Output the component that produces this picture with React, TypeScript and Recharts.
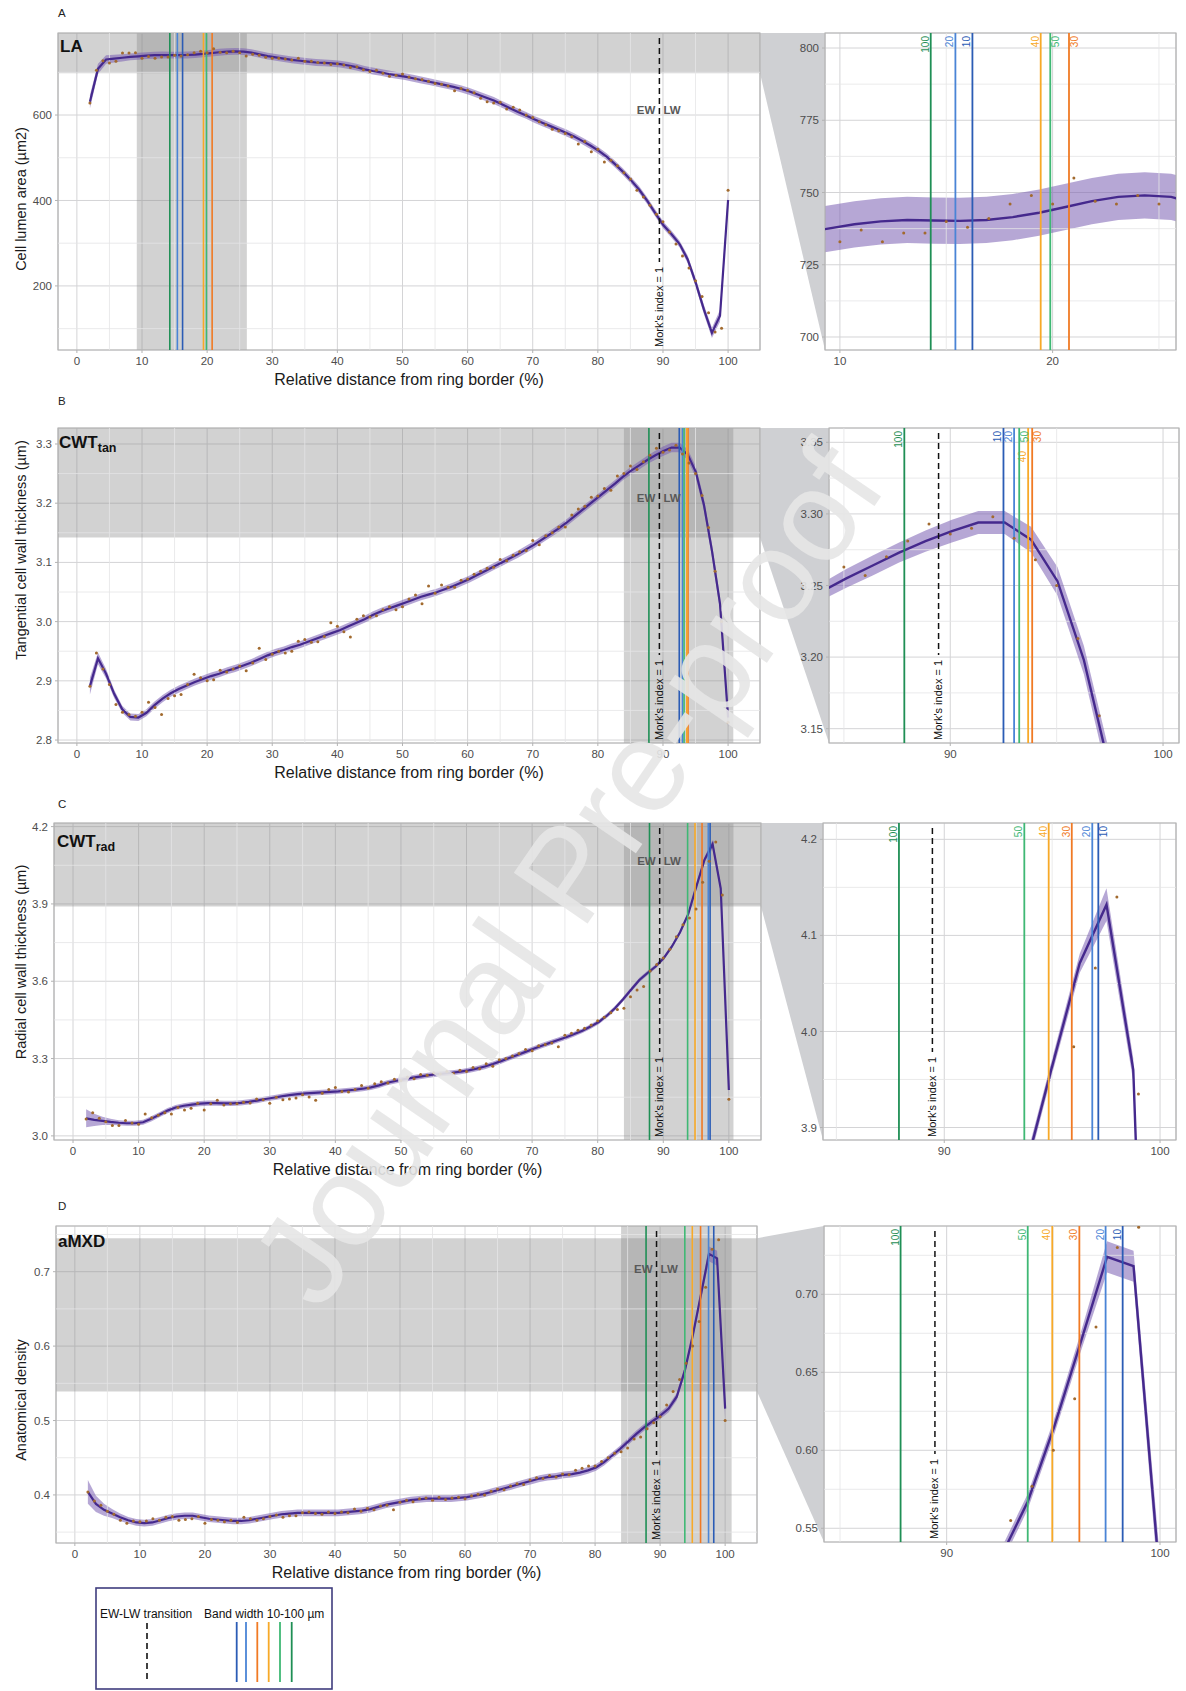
import React from "react";
import {
  ComposedChart,
  Line,
  Area,
  Scatter,
  XAxis,
  YAxis,
  CartesianGrid,
  ReferenceLine,
  ReferenceArea,
} from "recharts";

const FONT = '"Liberation Sans", Arial, Helvetica, sans-serif';

// geom_smooth evaluates the fit on 80 points between 2 and 100 %
const FIT_X = Array.from({ length: 80 }, (_, i) => 2 + (i * 98) / 79);
// measured positions, every 1 % from 2 to 100
const POINT_X = Array.from({ length: 99 }, (_, i) => i + 2);

const BAND_WIDTHS = [10, 20, 30, 40, 50, 100];
const BAND_COLORS = ["#2b5cb5", "#4a84d6", "#f07a24", "#f7a928", "#3fb874", "#1f8f55"];
const MORK_X = 89.45;

const MAIN_X_DOMAIN: [number, number] = [-2.9, 104.9];
const MAIN_X_TICKS = [0, 10, 20, 30, 40, 50, 60, 70, 80, 90, 100];
const MAIN_X_MINOR = [5, 15, 25, 35, 45, 55, 65, 75, 85, 95];
const ZOOM_X_TICKS = [90, 100];
const ZOOM_X_MINOR = [85, 95];

// ---- LA : cell lumen area (µm2)
const fitLA = [
  631, 708, 730, 732, 734, 736, 737.5, 739, 740, 740.5,
  740.3, 740.2, 740.5, 741.5, 743, 745, 747, 748.5, 749, 748.5,
  746, 742, 738, 735, 732, 729, 727, 725, 723, 722,
  721, 719, 716, 712, 707, 703, 700, 696, 693, 690,
  686, 682, 678, 674, 670, 666, 661, 655, 648, 641,
  634, 625, 616, 607, 599, 590, 582, 574, 566, 558,
  549, 539, 528, 516, 502, 485, 467, 447, 425, 399,
  370, 342, 321, 298, 262, 207, 145, 90, 130, 401,
];
const ciLA = [
  16, 12, 10, 9, 8.5, 8, 8, 8, 8, 8,
  8, 8, 8, 8, 8, 8, 8, 8, 8, 8,
  8, 8, 8, 8, 8, 8, 8, 8, 8, 8,
  8, 8, 8, 8, 8, 8, 8, 8, 8, 8,
  8, 8, 8, 8, 8, 8, 8, 8, 8, 8,
  8, 8, 8, 8, 8, 8, 8, 8, 8, 8,
  8, 8, 8, 8, 8, 8, 8, 8, 8, 8,
  8, 8, 8, 8, 9, 10, 11, 12, 14, 18,
];
const ptsLA = [
  628, 705, 727, 722, 726, 745, 745, 746, 733, 737,
  733, 736, 736, 740, 738, 741, 746, 749, 746, 755,
  747, 746, 749, 746, 738, 742, 740, 735, 733, 733,
  731, 729, 733, 726, 726, 723, 722, 718, 720, 717,
  711, 713, 706, 702, 705, 698, 691, 693, 696, 689,
  685, 683, 679, 674, 672, 668, 657, 662, 658, 652,
  639, 631, 628, 630, 614, 618, 612, 600, 594, 584,
  577, 567, 563, 557, 549, 532, 538, 514, 520, 490,
  494, 481, 465, 450, 424, 408, 389, 368, 350, 326,
  298, 270, 242, 212, 175, 137, 92, 101, 424,
];
const bwLA = [16.23, 15.43, 20.77, 19.44, 19.89, 14.27];

// ---- CWTtan : tangential cell wall thickness (µm)
const fitTan = [
  2.891, 2.938, 2.912, 2.878, 2.852, 2.839, 2.838, 2.846, 2.859, 2.87,
  2.879, 2.886, 2.892, 2.898, 2.903, 2.908, 2.912, 2.917, 2.921, 2.926,
  2.931, 2.937, 2.943, 2.948, 2.952, 2.957, 2.961, 2.966, 2.971, 2.976,
  2.981, 2.986, 2.992, 2.998, 3.004, 3.011, 3.017, 3.022, 3.027, 3.032,
  3.037, 3.042, 3.046, 3.05, 3.055, 3.06, 3.066, 3.072, 3.079, 3.086,
  3.093, 3.1, 3.107, 3.114, 3.122, 3.13, 3.139, 3.148, 3.157, 3.167,
  3.178, 3.189, 3.2, 3.211, 3.222, 3.233, 3.245, 3.255, 3.264, 3.273,
  3.281, 3.288, 3.294, 3.294, 3.282, 3.253, 3.198, 3.12, 3.03, 2.838,
];
const ciTan = [
  0.014, 0.01, 0.008, 0.007, 0.006, 0.006, 0.006, 0.006, 0.006, 0.006,
  0.006, 0.006, 0.006, 0.006, 0.006, 0.006, 0.006, 0.006, 0.006, 0.006,
  0.006, 0.006, 0.006, 0.006, 0.006, 0.006, 0.006, 0.006, 0.006, 0.006,
  0.006, 0.006, 0.006, 0.006, 0.006, 0.006, 0.006, 0.006, 0.006, 0.006,
  0.006, 0.006, 0.006, 0.006, 0.006, 0.006, 0.006, 0.006, 0.006, 0.006,
  0.006, 0.006, 0.006, 0.006, 0.006, 0.006, 0.006, 0.006, 0.006, 0.006,
  0.006, 0.006, 0.006, 0.006, 0.006, 0.006, 0.006, 0.0065, 0.007, 0.007,
  0.0075, 0.008, 0.008, 0.008, 0.009, 0.01, 0.01, 0.011, 0.012, 0.016,
];
const ptsTan = [
  2.891, 2.947, 2.92, 2.894, 2.86, 2.847, 2.843, 2.84, 2.847, 2.864,
  2.855, 2.843, 2.87, 2.875, 2.877, 2.894, 2.911, 2.905, 2.9, 2.902,
  2.918, 2.915, 2.92, 2.925, 2.917, 2.93, 2.955, 2.936, 2.945, 2.95,
  2.947, 2.95, 2.967, 2.97, 2.965, 2.966, 2.975, 2.998, 2.992, 2.983,
  2.974, 3.004, 3.01, 3.008, 3.01, 3.02, 3.025, 3.02, 3.025, 3.038,
  3.045, 3.03, 3.06, 3.048, 3.062, 3.058, 3.058, 3.07, 3.072, 3.08,
  3.085, 3.09, 3.092, 3.105, 3.103, 3.112, 3.118, 3.12, 3.137, 3.13,
  3.145, 3.15, 3.16, 3.16, 3.18, 3.19, 3.195, 3.21, 3.212, 3.225,
  3.222, 3.246, 3.25, 3.263, 3.257, 3.27, 3.281, 3.293, 3.286, 3.29,
  3.298, 3.283, 3.268, 3.25, 3.213, 3.159, 3.085, 3.0, 2.83,
];
const bwTan = [92.5, 93.0, 93.85, 93.66, 93.24, 87.84];

// ---- CWTrad : radial cell wall thickness (µm)
const fitRad = [
  3.068, 3.062, 3.058, 3.054, 3.051, 3.049, 3.049, 3.053, 3.066, 3.082,
  3.098, 3.11, 3.117, 3.121, 3.125, 3.127, 3.127, 3.126, 3.126, 3.128,
  3.132, 3.137, 3.143, 3.148, 3.153, 3.158, 3.162, 3.165, 3.167, 3.169,
  3.171, 3.173, 3.176, 3.179, 3.183, 3.188, 3.196, 3.206, 3.213, 3.219,
  3.225, 3.23, 3.235, 3.239, 3.242, 3.245, 3.249, 3.254, 3.261, 3.269,
  3.279, 3.29, 3.302, 3.314, 3.326, 3.338, 3.35, 3.361, 3.372, 3.383,
  3.395, 3.408, 3.424, 3.442, 3.466, 3.495, 3.53, 3.568, 3.605, 3.632,
  3.657, 3.69, 3.735, 3.79, 3.86, 3.967, 4.071, 4.132, 3.96, 3.178,
];
const ciRad = [
  0.035, 0.024, 0.016, 0.012, 0.01, 0.01, 0.01, 0.01, 0.01, 0.01,
  0.01, 0.01, 0.01, 0.01, 0.01, 0.01, 0.01, 0.01, 0.01, 0.01,
  0.01, 0.01, 0.01, 0.01, 0.01, 0.01, 0.01, 0.01, 0.01, 0.01,
  0.01, 0.01, 0.01, 0.01, 0.01, 0.01, 0.01, 0.01, 0.01, 0.01,
  0.01, 0.01, 0.01, 0.01, 0.01, 0.01, 0.01, 0.01, 0.01, 0.01,
  0.01, 0.01, 0.01, 0.01, 0.01, 0.01, 0.01, 0.01, 0.01, 0.01,
  0.009, 0.009, 0.009, 0.009, 0.009, 0.009, 0.009, 0.009, 0.009, 0.009,
  0.008, 0.008, 0.008, 0.008, 0.008, 0.008, 0.01, 0.017, 0.012, 0.025,
];
const ptsRad = [
  3.065, 3.09, 3.068, 3.055, 3.04, 3.04, 3.06, 3.05, 3.045, 3.085,
  3.07, 3.08, 3.09, 3.085, 3.11, 3.1, 3.107, 3.127, 3.1, 3.125,
  3.138, 3.12, 3.125, 3.125, 3.13, 3.128, 3.143, 3.14, 3.127, 3.15,
  3.14, 3.143, 3.147, 3.16, 3.151, 3.138, 3.165, 3.18, 3.188, 3.172,
  3.17, 3.18, 3.195, 3.185, 3.202, 3.21, 3.205, 3.22, 3.215, 3.228,
  3.222, 3.238, 3.235, 3.245, 3.24, 3.25, 3.242, 3.255, 3.25, 3.265,
  3.26, 3.28, 3.27, 3.295, 3.3, 3.31, 3.32, 3.335, 3.33, 3.35,
  3.355, 3.36, 3.346, 3.39, 3.398, 3.41, 3.418, 3.43, 3.447, 3.46,
  3.478, 3.49, 3.495, 3.54, 3.566, 3.58, 3.64, 3.665, 3.69, 3.724,
  3.773, 3.819, 3.845, 3.88, 3.984, 4.066, 4.14, 3.935, 3.142,
];
const bwRad = [97.14, 96.86, 95.91, 94.84, 93.71, 87.9];

// ---- aMXD : anatomical density
const fitMxd = [
  0.404, 0.388, 0.38, 0.375, 0.37, 0.366, 0.363, 0.362, 0.363, 0.366,
  0.369, 0.371, 0.372, 0.372, 0.37, 0.368, 0.367, 0.366, 0.365, 0.365,
  0.366, 0.368, 0.37, 0.372, 0.374, 0.375, 0.376, 0.376, 0.376, 0.376,
  0.376, 0.376, 0.377, 0.378, 0.379, 0.381, 0.384, 0.387, 0.389, 0.391,
  0.393, 0.394, 0.395, 0.395, 0.395, 0.395, 0.396, 0.397, 0.399, 0.401,
  0.404, 0.407, 0.41, 0.413, 0.416, 0.419, 0.422, 0.424, 0.425, 0.427,
  0.428, 0.43, 0.433, 0.437, 0.444, 0.453, 0.462, 0.472, 0.482, 0.491,
  0.499, 0.507, 0.516, 0.532, 0.567, 0.615, 0.669, 0.724, 0.718, 0.516,
];
const ciMxd = [
  0.016, 0.011, 0.008, 0.006, 0.005, 0.0045, 0.0045, 0.0045, 0.0045, 0.0045,
  0.0045, 0.0045, 0.0045, 0.0045, 0.0045, 0.0045, 0.0045, 0.0045, 0.0045, 0.0045,
  0.0045, 0.0045, 0.0045, 0.0045, 0.0045, 0.0045, 0.0045, 0.0045, 0.0045, 0.0045,
  0.0045, 0.0045, 0.0045, 0.0045, 0.0045, 0.0045, 0.0045, 0.0045, 0.0045, 0.0045,
  0.0045, 0.0045, 0.0045, 0.0045, 0.0045, 0.0045, 0.0045, 0.0045, 0.0045, 0.0045,
  0.0045, 0.0045, 0.0045, 0.0045, 0.0045, 0.0045, 0.0045, 0.0045, 0.0045, 0.0045,
  0.0045, 0.0045, 0.0045, 0.0045, 0.0045, 0.0045, 0.0045, 0.0045, 0.0045, 0.0045,
  0.0045, 0.0045, 0.005, 0.005, 0.005, 0.005, 0.006, 0.01, 0.01, 0.014,
];
const ptsMxd = [
  0.404, 0.392, 0.386, 0.378, 0.374, 0.366, 0.362, 0.365, 0.364, 0.365,
  0.368, 0.366, 0.37, 0.371, 0.366, 0.367, 0.368, 0.371, 0.362, 0.367,
  0.366, 0.364, 0.366, 0.363, 0.37, 0.368, 0.366, 0.368, 0.371, 0.373,
  0.37, 0.372, 0.372, 0.376, 0.377, 0.375, 0.374, 0.377, 0.375, 0.377,
  0.376, 0.381, 0.378, 0.382, 0.38, 0.385, 0.386, 0.38, 0.39, 0.393,
  0.391, 0.395, 0.396, 0.393, 0.397, 0.394, 0.396, 0.397, 0.395, 0.399,
  0.401, 0.4, 0.405, 0.408, 0.407, 0.412, 0.415, 0.414, 0.42, 0.423,
  0.422, 0.426, 0.424, 0.428, 0.427, 0.433, 0.436, 0.439, 0.439, 0.445,
  0.45, 0.456, 0.458, 0.463, 0.475, 0.478, 0.489, 0.497, 0.505, 0.521,
  0.539, 0.555, 0.577, 0.6, 0.633, 0.679, 0.73, 0.743, 0.5,
];
const bwMxd = [98.25, 97.45, 96.22, 94.95, 93.8, 87.84];

type Box = { left: number; top: number; right: number; bottom: number };
type View = {
  box: Box;
  xDomain: [number, number];
  xTicks: number[];
  xMinor: number[];
  yDomain: [number, number];
  yTicks: number[];
  yMinor: number[];
  dec: number;
};
type PanelCfg = {
  id: string;
  letter: string;
  letterY: number;
  title: string;
  sub?: string;
  titleX: number;
  titleY: number;
  yTitle: string;
  yTitleY: number;
  fit: number[];
  ci: number[];
  pts: number[];
  bw: number[];
  bwShift: number[];
  bwRight: boolean[];
  vBand: [number, number];
  hBand: [number, number];
  ewOffset: number;
  zoomMork: boolean;
  main: View;
  zoom: View;
};

const PANELS: PanelCfg[] = [
  {
    id: "A", letter: "A", letterY: 17, title: "LA", titleX: 60, titleY: 52,
    yTitle: "Cell lumen area (µm2)", yTitleY: 199,
    fit: fitLA, ci: ciLA, pts: ptsLA, bw: bwLA,
    bwShift: [0, 0, 0, 0, 0, 0], bwRight: [false, false, true, false, true, false],
    vBand: [9.2, 26.1], hBand: [698, 792], ewOffset: 77, zoomMork: false,
    main: {
      box: { left: 58, top: 33, right: 760, bottom: 350 },
      xDomain: MAIN_X_DOMAIN, xTicks: MAIN_X_TICKS, xMinor: MAIN_X_MINOR,
      yDomain: [50, 792], yTicks: [200, 400, 600], yMinor: [100, 300, 500, 700], dec: 0,
    },
    zoom: {
      box: { left: 825, top: 33, right: 1176, bottom: 350 },
      xDomain: [9.3, 25.8], xTicks: [10, 20], xMinor: [15, 25],
      yDomain: [695.5, 805.2], yTicks: [700, 725, 750, 775, 800],
      yMinor: [712.5, 737.5, 762.5, 787.5], dec: 0,
    },
  },
  {
    id: "B", letter: "B", letterY: 405, title: "CWT", sub: "tan", titleX: 59, titleY: 448,
    yTitle: "Tangential cell wall thickness (µm)", yTitleY: 550,
    fit: fitTan, ci: ciTan, pts: ptsTan, bw: bwTan,
    bwShift: [0, 0, 0, 20, 0, 0], bwRight: [false, false, true, false, true, false],
    vBand: [84, 100.8], hBand: [3.142, 3.327], ewOffset: 70, zoomMork: true,
    main: {
      box: { left: 58, top: 428, right: 760, bottom: 743 },
      xDomain: MAIN_X_DOMAIN, xTicks: MAIN_X_TICKS, xMinor: MAIN_X_MINOR,
      yDomain: [2.795, 3.327], yTicks: [2.8, 2.9, 3.0, 3.1, 3.2, 3.3],
      yMinor: [2.85, 2.95, 3.05, 3.15, 3.25], dec: 1,
    },
    zoom: {
      box: { left: 829, top: 428, right: 1179, bottom: 743 },
      xDomain: [84.3, 100.75], xTicks: ZOOM_X_TICKS, xMinor: ZOOM_X_MINOR,
      yDomain: [3.14, 3.36], yTicks: [3.15, 3.2, 3.25, 3.3, 3.35],
      yMinor: [3.175, 3.225, 3.275, 3.325], dec: 2,
    },
  },
  {
    id: "C", letter: "C", letterY: 808, title: "CWT", sub: "rad", titleX: 57, titleY: 847,
    yTitle: "Radial cell wall thickness (µm)", yTitleY: 962,
    fit: fitRad, ci: ciRad, pts: ptsRad, bw: bwRad,
    bwShift: [0, 0, 0, 0, 0, 0], bwRight: [true, false, false, false, false, false],
    vBand: [84, 100.7], hBand: [3.89, 4.214], ewOffset: 38, zoomMork: true,
    main: {
      box: { left: 54, top: 823, right: 761, bottom: 1140 },
      xDomain: MAIN_X_DOMAIN, xTicks: MAIN_X_TICKS, xMinor: MAIN_X_MINOR,
      yDomain: [2.984, 4.214], yTicks: [3.0, 3.3, 3.6, 3.9, 4.2],
      yMinor: [3.15, 3.45, 3.75, 4.05], dec: 1,
    },
    zoom: {
      box: { left: 823, top: 823, right: 1176, bottom: 1140 },
      xDomain: [84.38, 100.74], xTicks: ZOOM_X_TICKS, xMinor: ZOOM_X_MINOR,
      yDomain: [3.887, 4.217], yTicks: [3.9, 4.0, 4.1, 4.2],
      yMinor: [3.95, 4.05, 4.15], dec: 1,
    },
  },
  {
    id: "D", letter: "D", letterY: 1210, title: "aMXD", titleX: 58, titleY: 1247,
    yTitle: "Anatomical density", yTitleY: 1400,
    fit: fitMxd, ci: ciMxd, pts: ptsMxd, bw: bwMxd,
    bwShift: [0, 0, 0, 0, 0, 0], bwRight: [false, false, false, false, false, false],
    vBand: [84, 101], hBand: [0.539, 0.745], ewOffset: 43, zoomMork: true,
    main: {
      box: { left: 56, top: 1226, right: 757, bottom: 1543 },
      xDomain: MAIN_X_DOMAIN, xTicks: MAIN_X_TICKS, xMinor: MAIN_X_MINOR,
      yDomain: [0.3354, 0.7614], yTicks: [0.4, 0.5, 0.6, 0.7],
      yMinor: [0.35, 0.45, 0.55, 0.65, 0.75], dec: 1,
    },
    zoom: {
      box: { left: 824, top: 1226, right: 1176, bottom: 1542 },
      xDomain: [84.25, 100.75], xTicks: ZOOM_X_TICKS, xMinor: ZOOM_X_MINOR,
      yDomain: [0.5412, 0.7438], yTicks: [0.55, 0.6, 0.65, 0.7],
      yMinor: [0.575, 0.625, 0.675, 0.725], dec: 2,
    },
  },
];

const TOP_PAD = 10;
const ZOOM_ORIGIN_X = 770;
const MORK_LEN = 80;
const GRID = "#d4d4d6";
const GRID_MINOR = "#e4e4e6";
const BORDER = "#b3b3b3";
const CURVE = "#45298d";
const CI_FILL = "#7a5fb3";
const POINT = "#a26a2e";
const BAND_FILL = "#8a8a8a";
const TICK_STYLE = { fontSize: 11.5, fill: "#4d4d4d", fontFamily: FONT };

function yPix(v: View, value: number) {
  const [a, b] = v.yDomain;
  return v.box.top + ((b - value) / (b - a)) * (v.box.bottom - v.box.top);
}

function PanelChart({ cfg, zoom }: { cfg: PanelCfg; zoom: boolean }) {
  const v = zoom ? cfg.zoom : cfg.main;
  const box = v.box;
  const originX = zoom ? ZOOM_ORIGIN_X : 0;
  const xAxisH = zoom ? 24 : 38;
  const plotH = box.bottom - box.top;
  const width = box.right - originX + 3;
  const height = TOP_PAD + plotH + xAxisH;
  const [y0, y1] = v.yDomain;
  const perPx = (y1 - y0) / plotH;
  const showMork = zoom ? cfg.zoomMork : true;

  const fitRows = FIT_X.map((x, i) => ({
    x,
    fit: cfg.fit[i],
    band: [cfg.fit[i] - cfg.ci[i], cfg.fit[i] + cfg.ci[i]],
  }));
  const ptRows = POINT_X.map((x, i) => ({ x, y: cfg.pts[i] }));

  const yTitle = () => {
    const cx = 21;
    const cy = cfg.yTitleY - (box.top - TOP_PAD);
    return (
      <text
        x={cx}
        y={cy}
        transform={`rotate(-90 ${cx} ${cy})`}
        textAnchor="middle"
        dominantBaseline="central"
        fontSize={14.5}
        fill="#1a1a1a"
        fontFamily={FONT}
      >
        {cfg.yTitle}
      </text>
    );
  };

  const morkLabel = (props: any) => {
    const vb = props.viewBox;
    if (!vb) return null;
    const x = vb.x;
    const bottom = vb.y + vb.height;
    const tx = x + 3.5;
    const ty = bottom - 3;
    return (
      <g>
        <text
          x={tx}
          y={ty}
          transform={`rotate(-90 ${tx} ${ty})`}
          fontSize={11}
          fill="#111"
          fontFamily={FONT}
        >
          Mork's index = 1
        </text>
        {!zoom && (
          <text x={x - 4} y={vb.y + cfg.ewOffset + 4} textAnchor="end" fontSize={11.5} fontWeight="bold" fill="#595959" fontFamily={FONT}>
            EW
          </text>
        )}
        {!zoom && (
          <text x={x + 4} y={vb.y + cfg.ewOffset + 4} textAnchor="start" fontSize={11.5} fontWeight="bold" fill="#595959" fontFamily={FONT}>
            LW
          </text>
        )}
      </g>
    );
  };

  const bwLabel = (i: number) => (props: any) => {
    const vb = props.viewBox;
    if (!vb) return null;
    const tx = cfg.bwRight[i] ? vb.x + 9 : vb.x - 2;
    const ty = vb.y + 3 + cfg.bwShift[i];
    return (
      <text
        x={tx}
        y={ty}
        transform={`rotate(-90 ${tx} ${ty})`}
        textAnchor="end"
        fontSize={10}
        fill={BAND_COLORS[i]}
        fontFamily={FONT}
      >
        {BAND_WIDTHS[i]}
      </text>
    );
  };

  return (
    <div style={{ position: "absolute", left: originX, top: box.top - TOP_PAD }}>
      <ComposedChart
        width={width}
        height={height}
        data={fitRows}
        margin={{ top: TOP_PAD, right: 3, bottom: 0, left: 0 }}
      >
        <CartesianGrid stroke={GRID} strokeWidth={1} />
        {v.xMinor.map((m) => (
          <ReferenceLine key={"mx" + m} x={m} stroke={GRID_MINOR} strokeWidth={0.8} />
        ))}
        {v.yMinor.map((m) => (
          <ReferenceLine key={"my" + m} y={m} stroke={GRID_MINOR} strokeWidth={0.8} />
        ))}
        <XAxis
          dataKey="x"
          type="number"
          domain={v.xDomain}
          ticks={v.xTicks}
          interval={0}
          allowDataOverflow
          height={xAxisH}
          axisLine={false}
          tickLine={{ stroke: BORDER }}
          tickSize={3}
          tickMargin={4}
          tick={TICK_STYLE}
          label={
            zoom
              ? undefined
              : {
                  value: "Relative distance from ring border (%)",
                  position: "insideBottom",
                  offset: 3,
                  fontSize: 16,
                  fill: "#1a1a1a",
                  fontFamily: FONT,
                }
          }
        />
        <YAxis
          type="number"
          domain={v.yDomain}
          ticks={v.yTicks}
          interval={0}
          allowDataOverflow
          width={box.left - originX}
          axisLine={false}
          tickLine={{ stroke: BORDER }}
          tickSize={3}
          tickMargin={3}
          tick={TICK_STYLE}
          tickFormatter={(t: number) => t.toFixed(v.dec)}
          label={zoom ? undefined : yTitle}
        />
        {!zoom && (
          <ReferenceArea x1={cfg.vBand[0]} x2={cfg.vBand[1]} fill={BAND_FILL} fillOpacity={0.38} stroke="none" />
        )}
        {!zoom && (
          <ReferenceArea y1={cfg.hBand[0]} y2={cfg.hBand[1]} fill={BAND_FILL} fillOpacity={0.38} stroke="none" />
        )}
        <Area
          type="linear"
          dataKey="band"
          stroke="none"
          fill={CI_FILL}
          fillOpacity={0.55}
          isAnimationActive={false}
        />
        <Line
          type="linear"
          dataKey="fit"
          stroke={CURVE}
          strokeWidth={zoom ? 2.4 : 2.2}
          dot={false}
          isAnimationActive={false}
        />
        <Scatter
          data={ptRows}
          dataKey="y"
          isAnimationActive={false}
          shape={(p: any) => <circle cx={p.cx} cy={p.cy} r={1.5} fill={POINT} />}
        />
        {cfg.bw.map((pos, i) => (
          <ReferenceLine
            key={"bw" + i}
            x={pos}
            stroke={BAND_COLORS[i]}
            strokeWidth={zoom ? 1.8 : 1.6}
            label={zoom ? bwLabel(i) : undefined}
          />
        ))}
        {showMork && (
          <ReferenceLine
            segment={[
              { x: MORK_X, y: y1 - 5 * perPx },
              { x: MORK_X, y: y0 + (MORK_LEN + 8) * perPx },
            ]}
            stroke="#111"
            strokeWidth={1.5}
            strokeDasharray="6 4"
          />
        )}
        {showMork && <ReferenceLine x={MORK_X} stroke="none" label={morkLabel} />}
        <ReferenceArea
          x1={v.xDomain[0]}
          x2={v.xDomain[1]}
          y1={y0}
          y2={y1}
          fill="none"
          stroke={BORDER}
          strokeWidth={1.2}
        />
      </ComposedChart>
    </div>
  );
}

const LEGEND_LINE_X = [236.7, 246, 257.3, 268.7, 280, 291.7];

export default function App() {
  return (
    <div
      style={{
        position: "absolute",
        left: 0,
        top: 0,
        width: 1186,
        height: 1691,
        background: "#fff",
        overflow: "hidden",
        fontFamily: FONT,
      }}
    >
      {/* zoom connectors */}
      <svg width={1186} height={1691} style={{ position: "absolute", left: 0, top: 0 }}>
        {PANELS.map((p) => {
          const m = p.main;
          const z = p.zoom.box;
          const hiV = Math.min(p.hBand[1], m.yDomain[1]);
          const pts = [
            [m.box.right, yPix(m, hiV)],
            [z.left, z.top],
            [z.left, z.bottom],
            [m.box.right, yPix(m, p.hBand[0])],
          ]
            .map((q) => q.join(","))
            .join(" ");
          return <polygon key={p.id} points={pts} fill="#cfd0d3" />;
        })}
      </svg>

      {PANELS.map((p) => (
        <React.Fragment key={p.id}>
          <PanelChart cfg={p} zoom={false} />
          <PanelChart cfg={p} zoom={true} />
        </React.Fragment>
      ))}

      {/* panel tags, titles, legend */}
      <svg width={1186} height={1691} style={{ position: "absolute", left: 0, top: 0, pointerEvents: "none" }}>
        {PANELS.map((p) => (
          <g key={p.id}>
            <text x={58} y={p.letterY} fontSize={11.5} fill="#222" fontFamily={FONT}>
              {p.letter}
            </text>
            <text x={p.titleX} y={p.titleY} fontSize={17} fontWeight="bold" fill="#111" fontFamily={FONT}>
              {p.title}
              {p.sub && (
                <tspan fontSize={12.5} dy={4}>
                  {p.sub}
                </tspan>
              )}
            </text>
          </g>
        ))}
        <rect x={96} y={1588} width={236} height={101} fill="none" stroke="#3f3d7e" strokeWidth={1.6} />
        <text x={100} y={1618} fontSize={12} fill="#111" fontFamily={FONT}>
          EW-LW transition
        </text>
        <text x={204} y={1618} fontSize={12} fill="#111" fontFamily={FONT}>
          Band width 10-100 µm
        </text>
        <line x1={147} x2={147} y1={1623} y2={1681} stroke="#111" strokeWidth={1.6} strokeDasharray="6 4" />
        {LEGEND_LINE_X.map((x, i) => (
          <line key={i} x1={x} x2={x} y1={1622} y2={1682} stroke={BAND_COLORS[i]} strokeWidth={1.8} />
        ))}
      </svg>

      {/* watermark */}
      <svg width={1186} height={1691} style={{ position: "absolute", left: 0, top: 0, pointerEvents: "none" }}>
        <text
          x={567}
          y={874}
          transform="rotate(-55.5 567 874)"
          textAnchor="middle"
          dominantBaseline="central"
          fontSize={130}
          fill="#e6e6e6"
          fillOpacity={0.9}
          fontFamily={FONT}
        >
          Journal Pre-proof
        </text>
      </svg>
    </div>
  );
}
